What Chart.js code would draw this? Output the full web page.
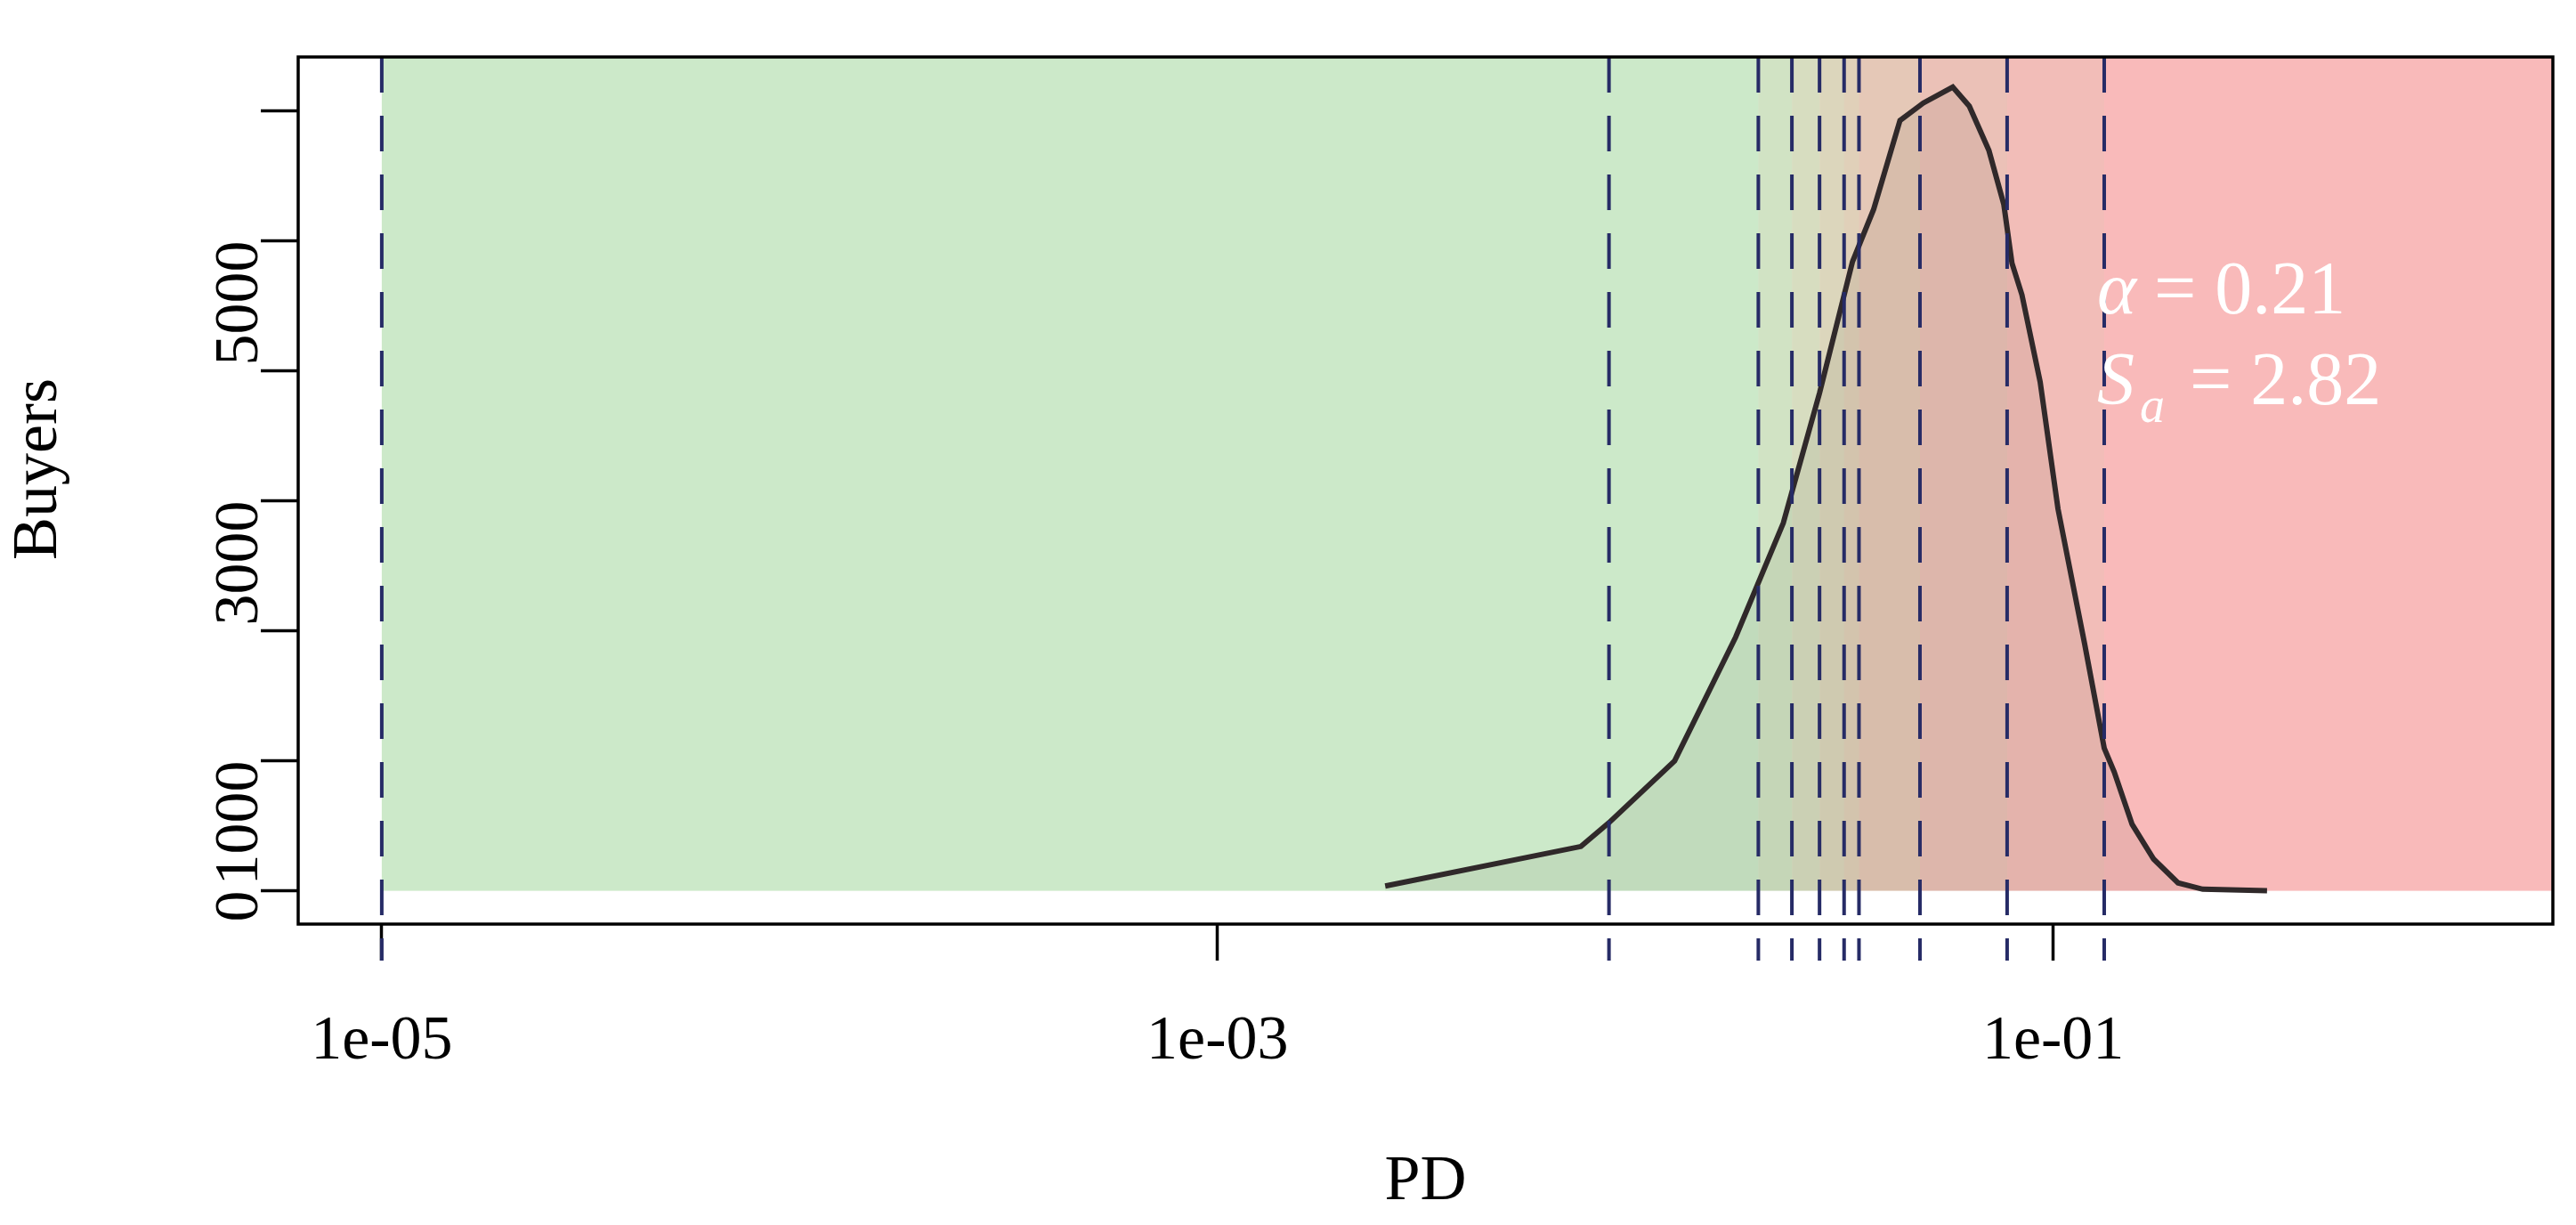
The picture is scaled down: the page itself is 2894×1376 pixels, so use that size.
<!DOCTYPE html>
<html>
<head>
<meta charset="utf-8">
<script src="https://cdn.jsdelivr.net/npm/chart.js@4/dist/chart.umd.min.js"></script>
<style>
  html, body { margin: 0; padding: 0; background: #fff; }
  canvas { display: block; }
</style>
</head>
<body>
<canvas id="c" width="2894" height="1376"></canvas>
<script>
// curve: PD vs number of buyers
var pd = [0.00252, 0.00741, 0.00865, 0.01242, 0.01738, 0.0226, 0.0276, 0.0331, 0.0372, 0.0430, 0.0489, 0.0575,
          0.0630, 0.0702, 0.0762, 0.0797, 0.0842, 0.0931, 0.1027, 0.1189, 0.1325, 0.140, 0.1545, 0.174, 0.199, 0.228, 0.325];
var buyers = [37, 341, 524, 1000, 1951, 2829, 3829, 4841, 5244, 5927, 6061, 6183,
              6037, 5695, 5280, 4829, 4585, 3915, 2939, 1902, 1098, 915, 512, 244, 61, 12, 0];

// dashed cut-off lines
var cutoffs = [0.00001, 0.00865, 0.0197, 0.0237, 0.0276, 0.0316, 0.0343, 0.048, 0.0776, 0.1325];

// coloured bands in the background (edges + colours)
var bandEdges = [0.00001, 0.0197, 0.0237, 0.0276, 0.0316, 0.0343, 0.048, 0.0776, 0.1325, 1.57];
var bandColors = ["#cce9c9", "#d1e3c4", "#d7ddc0", "#dcd6bc", "#e0d0b9", "#e5c8b7", "#ebc1b7", "#f2bdb8", "#f9baba"];

var xTicks = [0.00001, 0.001, 0.1];
var xTickLabels = ["1e-05", "1e-03", "1e-01"];
var yLabelled = [0, 1000, 3000, 5000];

var FONT = "'Liberation Serif', 'DejaVu Serif', serif";

var extras = {
    id: "extras",
    beforeDatasetsDraw: function (chart) {
        var ctx = chart.ctx, x = chart.scales.x, y = chart.scales.y;
        var top = chart.chartArea.top, y0 = y.getPixelForValue(0);
        ctx.save();
        for (var i = 0; i < bandColors.length; i++) {
            var a = x.getPixelForValue(bandEdges[i]);
            var b = Math.min(x.getPixelForValue(bandEdges[i + 1]), chart.chartArea.right);
            ctx.fillStyle = bandColors[i];
            ctx.fillRect(a, top, b - a + 0.5, y0 - top);
        }
        ctx.restore();
    },
    afterDatasetsDraw: function (chart) {
        var ctx = chart.ctx, x = chart.scales.x, area = chart.chartArea;
        ctx.save();
        ctx.strokeStyle = "#262b66";
        ctx.lineWidth = 4;
        ctx.setLineDash([40, 26]);
        cutoffs.forEach(function (c) {
            var px = x.getPixelForValue(c);
            ctx.beginPath();
            ctx.moveTo(px, area.top);
            ctx.lineTo(px, area.bottom + 41);
            ctx.stroke();
        });
        ctx.setLineDash([]);
        // frame
        ctx.strokeStyle = "#000";
        ctx.lineWidth = 3.5;
        ctx.strokeRect(area.left, area.top, area.right - area.left, area.bottom - area.top);
        // annotation
        ctx.fillStyle = "#fff";
        ctx.textBaseline = "alphabetic";
        ctx.font = "italic 84px " + FONT;
        ctx.fillText("\u03b1", 2356, 352);
        ctx.font = "84px " + FONT;
        ctx.fillText("= 0.21", 2420, 352);
        ctx.font = "italic 84px " + FONT;
        ctx.fillText("S", 2356, 454);
        ctx.font = "italic 56px " + FONT;
        ctx.fillText("a", 2404, 474);
        ctx.font = "84px " + FONT;
        ctx.fillText("= 2.82", 2460, 454);
        // axis titles
        ctx.fillStyle = "#000";
        ctx.font = "72px " + FONT;
        ctx.textAlign = "center";
        ctx.textBaseline = "middle";
        ctx.fillText("PD", (area.left + area.right) / 2, 1328);
        ctx.translate(44, 527);
        ctx.rotate(-Math.PI / 2);
        ctx.fillText("Buyers", 0, 0);
        ctx.restore();
    }
};

new Chart(document.getElementById("c"), {
    type: "line",
    data: {
        datasets: [{
            data: pd.map(function (v, i) { return { x: v, y: buyers[i] }; }),
            borderColor: "#30292a",
            borderWidth: 6,
            pointRadius: 0,
            tension: 0,
            fill: "origin",
            backgroundColor: "rgba(70,60,40,0.08)"
        }]
    },
    options: {
        responsive: false,
        animation: false,
        layout: { padding: { top: -3, right: 26, left: 0, bottom: 0 } },
        plugins: { legend: { display: false }, tooltip: { enabled: false } },
        scales: {
            x: {
                type: "logarithmic",
                min: Math.pow(10, -5.2),
                max: 1.57,
                afterFit: function (s) { s.height = 338; },
                afterBuildTicks: function (s) { s.ticks = xTicks.map(function (v) { return { value: v }; }); },
                ticks: {
                    autoSkip: false, maxRotation: 0, minRotation: 0, padding: 50,
                    color: "#000", font: { family: FONT, size: 70 },
                    callback: function (v) { return xTickLabels[xTicks.indexOf(v)]; }
                },
                grid: { drawOnChartArea: false, tickLength: 41, tickWidth: 3.5, tickColor: "#000" },
                border: { display: false }
            },
            y: {
                min: -256,
                max: 6415,
                afterFit: function (s) { s.width = 335; },
                afterBuildTicks: function (s) {
                    s.ticks = [0, 1000, 2000, 3000, 4000, 5000, 6000].map(function (v) { return { value: v }; });
                },
                ticks: {
                    autoSkip: false, minRotation: 90, maxRotation: 90, padding: 22,
                    color: "#000", font: { family: FONT, size: 70 },
                    callback: function (v) { return yLabelled.indexOf(v) >= 0 ? String(v) : ""; }
                },
                grid: { drawOnChartArea: false, tickLength: 42, tickWidth: 3.5, tickColor: "#000" },
                border: { display: false }
            }
        }
    },
    plugins: [extras]
});
</script>
</body>
</html>
